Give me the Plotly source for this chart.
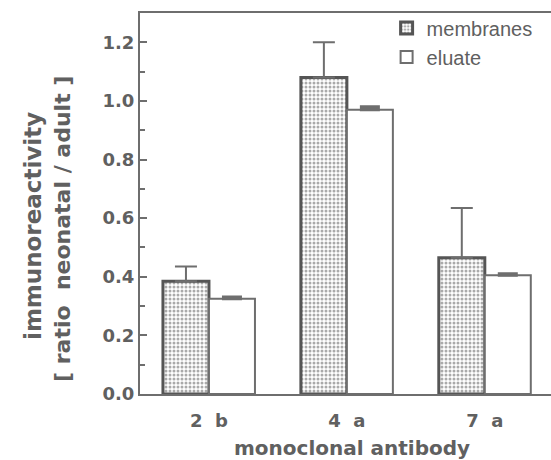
import plotly.graph_objects as go

categories = ["2  b", "4  a", "7  a"]
membranes = [0.385, 1.08, 0.465]
membranes_err = [0.05, 0.12, 0.17]
eluate = [0.325, 0.97, 0.405]
eluate_err = [0.006, 0.01, 0.005]

GRAY = "#6e6e6e"
TXT = "#606060"
BOLD = "DejaVu Sans"

fig = go.Figure()
fig.add_trace(go.Bar(
    name="membranes", x=categories, y=membranes,
    marker=dict(color="white", line=dict(color="#555555", width=3),
                pattern=dict(shape=".", fgcolor="#555555", bgcolor="white",
                             size=4, solidity=0.45)),
    error_y=dict(type="data", array=membranes_err, arrayminus=[0, 0, 0],
                 symmetric=False, color=GRAY, thickness=2, width=11),
))
fig.add_trace(go.Bar(
    name="eluate", x=categories, y=eluate,
    marker=dict(color="white", line=dict(color=GRAY, width=2)),
    error_y=dict(type="data", array=eluate_err, arrayminus=[0, 0, 0],
                 symmetric=False, color=GRAY, thickness=3, width=10),
))

fig.update_layout(
    width=551, height=460,
    margin=dict(l=140, r=0, t=13, b=66),
    paper_bgcolor="white", plot_bgcolor="white",
    barmode="group", bargap=0.333, bargroupgap=0,
    font=dict(family=BOLD, color=TXT),
    showlegend=True,
    legend=dict(x=0.6, y=1.012, xanchor="left", yanchor="top",
                font=dict(size=20, family="Liberation Sans", color=TXT),
                bgcolor="rgba(0,0,0,0)", tracegroupgap=3, itemwidth=30),
    xaxis=dict(
        range=[-0.5, 2.48], showline=True, linecolor=GRAY, linewidth=2,
        mirror=True, ticks="", showgrid=False,
        tickfont=dict(size=18, family=BOLD, color=TXT, weight="bold"),
        ticklabelstandoff=9,
    ),
    yaxis=dict(
        range=[0, 1.3], showline=True, linecolor=GRAY, linewidth=2,
        tickvals=[0, 0.2, 0.4, 0.6, 0.8, 1.0, 1.2],
        ticktext=["0.0", "0.2", "0.4", "0.6", "0.8", "1.0", "1.2"],
        ticks="inside", ticklen=7, tickcolor=GRAY, tickwidth=1.5,
        minor=dict(tickvals=[0.1, 0.3, 0.5, 0.7, 0.9, 1.1], ticks="inside",
                   ticklen=5, tickcolor=GRAY, tickwidth=1.5),
        showgrid=False, zeroline=False,
        tickfont=dict(size=18, family=BOLD, color=TXT, weight="bold"),
        ticklabelstandoff=0,
    ),
)

# axis titles (pixel positions converted to paper coordinates)
pw = 551 - 140
ph = 460 - 13 - 66
def px2paper(px, py):
    return (px - 140) / pw, (460 - 66 - py) / ph

for text, px, py, size, angle in [
    ("immunoreactivity", 33, 226, 23, -90),
    ("[ ratio  neonatal / adult ]", 62, 229, 22, -90),
    ("monoclonal antibody", 352, 448, 20, 0),
]:
    ax, ay = px2paper(px, py)
    fig.add_annotation(text=text, textangle=angle, x=ax, y=ay,
                       xref="paper", yref="paper", xanchor="center", yanchor="middle",
                       showarrow=False,
                       font=dict(size=size, family=BOLD, color=TXT, weight="bold"))

fig.write_html("out.html")
